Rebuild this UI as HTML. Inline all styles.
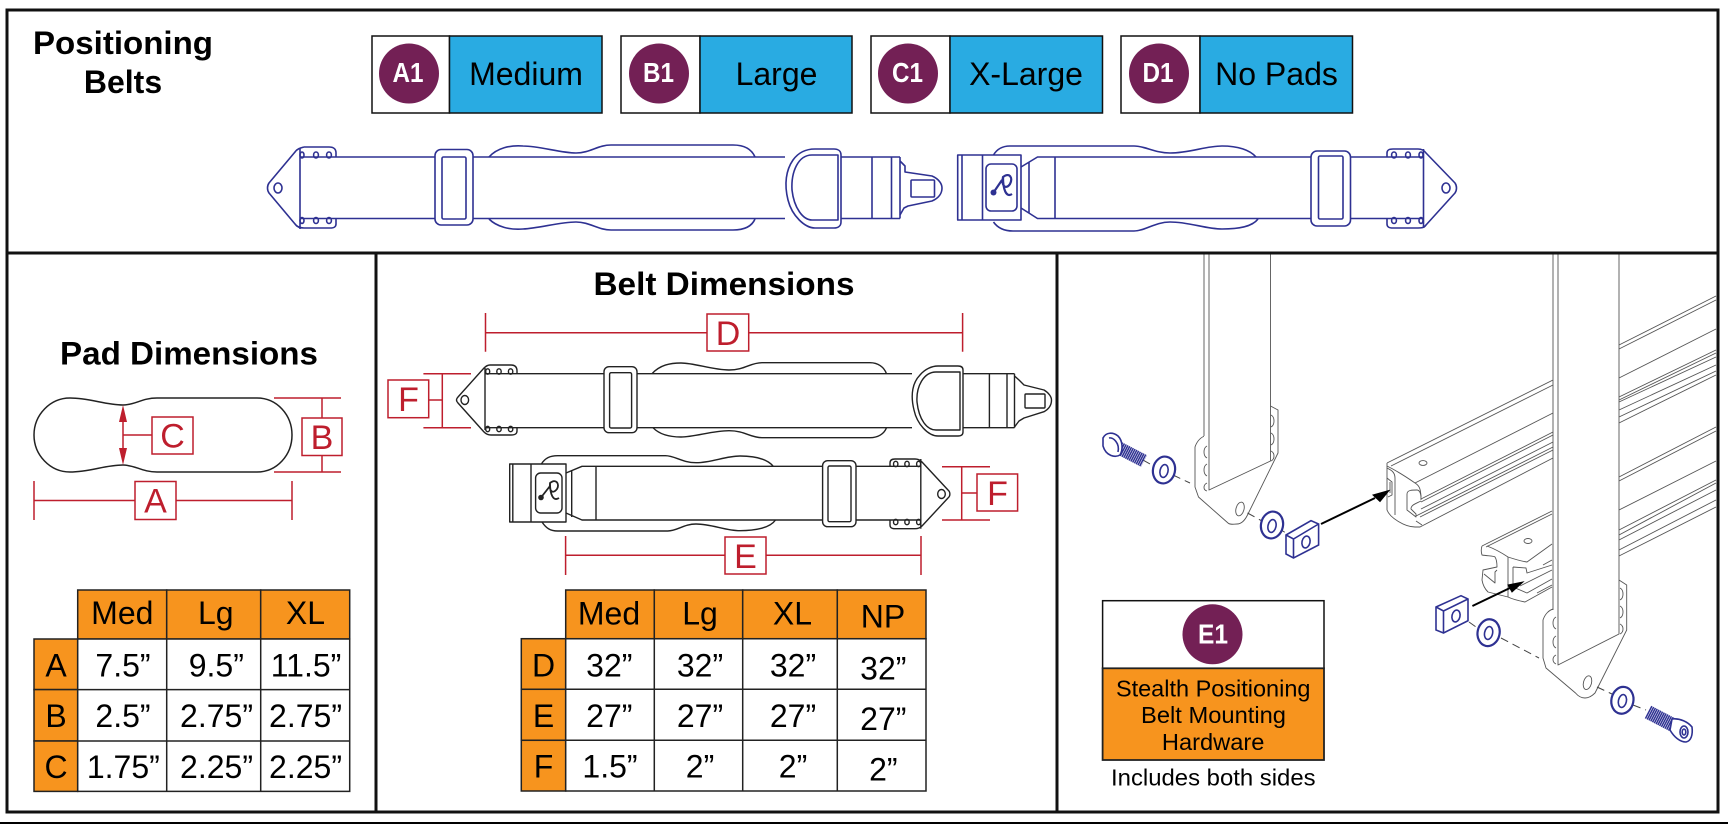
<!DOCTYPE html>
<html><head><meta charset="utf-8"><title>Positioning Belts</title>
<style>
html,body{margin:0;padding:0;background:#fff}
svg{display:block}
text{font-family:"Liberation Sans",sans-serif}
.b{font-weight:bold}
.bl{fill:none;stroke:#2e3192;stroke-width:1.6;stroke-linejoin:round}
.k{fill:none;stroke:#222;stroke-width:1.4;stroke-linejoin:round}
.r{stroke:#be1e2d;stroke-width:1.5;fill:none}
.rb{stroke:#be1e2d;stroke-width:1.5;fill:#fff}
.rt{fill:#be1e2d;font-size:34px;text-anchor:middle}
.g{fill:none;stroke:#555;stroke-width:.9;stroke-linejoin:round}
.h{fill:none;stroke:#2e3192;stroke-width:1.6}
.d{fill:none;stroke:#444;stroke-width:1;stroke-dasharray:8 5}
.or{fill:#f7941e;stroke:#222;stroke-width:1.5}
.wh{fill:#fff;stroke:#222;stroke-width:1.5}
.t{font-size:32px;text-anchor:middle;fill:#000}
.pill{fill:#fff;font-weight:bold;font-size:28px;text-anchor:middle}
.w{fill:#fff !important}
</style></head><body>
<svg width="1728" height="824" viewBox="0 0 1728 824" xmlns="http://www.w3.org/2000/svg">
<rect width="1728" height="824" fill="#fff"/>

<!-- hardware panel -->
<g>
<!-- rails -->
<g class="g">
<path d="M1387 463L1553 380M1391 466L1553 385"/>
<path d="M1387 463V510C1390 518 1405 527 1415 527L1420 527L1553 458"/>
<path d="M1387 468C1391 470 1395 472 1395 478V515"/>
<path d="M1387 478L1392 482V495L1388 497M1390 482V493"/>
<path d="M1415 483L1553 413"/>
<path d="M1387 466C1395 470 1405 476 1415 483C1420 486 1421 490 1421 500"/>
<path d="M1407 494C1407 490 1412 490 1417 490C1420 490 1421 495 1421 497M1407 494V510L1416 517V514L1411 509C1411 505 1415 504 1421 501"/>
<path d="M1421 499L1553 432M1421 502L1553 435M1421 509L1553 442M1416 516L1553 447M1420 517L1553 450M1416 521L1422 525"/>
<ellipse cx="1423" cy="463" rx="4" ry="2.400"/>
<path d="M1482 546L1552 511M1486 547L1552 514"/>
<path d="M1482 546C1481 549 1481 552 1482 555C1488 556 1494 556 1495 557C1497 560 1497 564 1497 567L1483 570L1482 580C1483 586 1485 589 1488 592L1508 597C1512 599 1520 601 1525 602L1552 587"/>
<path d="M1487 546C1495 549 1502 553 1508 557C1514 559 1520 561 1527 562L1552 544"/>
<path d="M1508 557V597"/>
<path d="M1513 567V587L1527 593L1552 579M1513 567L1526 568L1527 573L1552 565M1543 565L1552 560M1520 586L1552 570M1537 593L1552 585"/>
<path d="M1484 574L1495 583V572L1497 570"/>
<ellipse cx="1528" cy="541" rx="4" ry="2.500"/>
<path d="M1619 345L1716 296M1619 349L1716 300"/>
<path d="M1619 378L1716 329M1619 397L1716 350M1619 400L1716 353M1619 402L1716 357M1619 410L1716 365M1619 417L1716 371M1619 423L1716 375"/>
<path d="M1619 477L1716 427M1619 481L1716 431"/>
<path d="M1619 510L1716 461M1619 530L1716 480M1619 535L1716 483M1619 540L1716 490M1619 550L1716 500M1619 556L1716 507"/>
</g>
<!-- left bar -->
<path class="g w" d="M1270.500 406L1278 410V453L1247.500 515C1244 522 1240 524 1237 524C1233 524 1230 525 1228 523L1198.500 497L1195 487V447C1197 441 1201 437 1205 436Z"/>
<path class="w" d="M1204 253H1270.500V461L1209 490L1204 450Z"/>
<path class="g" d="M1204 253V436M1209 253V490L1270.500 461V253"/>
<path class="g" d="M1271 415C1275 417 1275 425 1271 427M1271 433C1275 435 1275 443 1271 445M1271 451C1275 453 1275 459 1271 461M1207 446C1203 448 1203 456 1207 458M1207 464C1203 466 1203 474 1207 476M1207 483C1203 485 1203 490 1207 491"/>
<ellipse class="g" cx="1240" cy="509" rx="4" ry="7" transform="rotate(15 1240 509)"/>
<!-- right bar -->
<path class="g w" d="M1619 580L1626.700 585V630L1595 693C1592 696 1589 698 1585 698C1581 698 1578 696 1575.500 693L1546 668L1543 658V620C1545 614 1549 610 1553.400 609Z"/>
<path class="w" d="M1553 253H1619V634L1558 665H1553Z"/>
<path class="g" d="M1553 253V610M1558 253V665L1619 634V253"/>
<path class="g" d="M1620 588C1624 590 1624 598 1620 600M1620 606C1624 608 1624 616 1620 618M1620 624C1624 626 1624 632 1620 634M1556 617C1552 619 1552 627 1556 629M1556 636C1552 638 1552 646 1556 648M1556 655C1552 657 1552 662 1556 664"/>
<ellipse class="g" cx="1587.500" cy="682.700" rx="4" ry="7" transform="rotate(15 1587.500 682.700)"/>
<!-- dashes -->
<path class="d" d="M1143 460L1150 464M1173 475L1190 483M1247.500 513L1262 521M1278 528L1286 533M1469 622L1476 627M1501 638L1539 658M1597 687L1612 694M1633 705L1646 710"/>
<!-- blue hardware -->
<g>
<path d="M1119 448L1144 461" stroke="#2e3192" stroke-width="13" stroke-dasharray="1.500 .5" fill="none"/>
<path class="h w" d="M1103 438C1106 432 1113 432 1118 436C1123 441 1123 450 1120 455C1115 458 1106 456 1103 446Z"/>
<path class="h" d="M1109 438C1113 437 1120 443 1118 452"/>
<ellipse class="h w" cx="1164" cy="470" rx="11" ry="13.500" transform="rotate(12 1164 470)" style="stroke-width:2.200"/>
<ellipse class="h" cx="1164" cy="471" rx="4" ry="6.500" transform="rotate(12 1164 471)"/>
<ellipse class="h w" cx="1272" cy="525" rx="11" ry="13.500" transform="rotate(12 1272 525)" style="stroke-width:2.200"/>
<ellipse class="h" cx="1272" cy="526" rx="4" ry="6.500" transform="rotate(12 1272 526)"/>
<path class="h w" d="M1286 535L1311 520.700L1318.600 524V545L1293.500 558L1286 554Z"/>
<path class="h" d="M1286 535L1293.500 539L1318.600 524M1293.500 539V558"/>
<ellipse class="h" cx="1306" cy="542" rx="4" ry="6" transform="rotate(12 1306 542)"/>
<path class="h w" d="M1436 607L1461 595.700L1468 599V620.700L1443.500 633L1436 630Z"/>
<path class="h" d="M1436 607L1443.500 611L1468 599M1443.500 611V633"/>
<ellipse class="h" cx="1456" cy="616" rx="4" ry="6" transform="rotate(12 1456 616)"/>
<ellipse class="h w" cx="1488.600" cy="632.700" rx="11" ry="13.500" transform="rotate(12 1488.600 632.700)" style="stroke-width:2.200"/>
<ellipse class="h" cx="1488.600" cy="633" rx="4" ry="6.500" transform="rotate(12 1488.600 633)"/>
<ellipse class="h w" cx="1622.400" cy="700.300" rx="11" ry="13.500" transform="rotate(12 1622.400 700.300)" style="stroke-width:2.200"/>
<ellipse class="h" cx="1622.400" cy="701" rx="4" ry="6.500" transform="rotate(12 1622.400 701)"/>
<path d="M1648 712L1673 725" stroke="#2e3192" stroke-width="14" stroke-dasharray="1.500 .5" fill="none"/>
<path class="h w" d="M1672 719C1680 718 1688 722 1692 727C1693 735 1691 741 1686 742C1680 742 1674 737 1670 730Z"/>
<ellipse class="h" cx="1684" cy="732" rx="4" ry="6"/>
<ellipse class="h" cx="1684" cy="732" rx="1.800" ry="3"/>
</g>
<!-- arrows -->
<path d="M1321 524L1375 498" stroke="#000" stroke-width="2" fill="none"/>
<path d="M1389 490.500L1373 495L1380 501.500Z" fill="#000" stroke="#000"/>
<path d="M1472.400 606L1512 587" stroke="#000" stroke-width="2" fill="none"/>
<path d="M1523 582L1508 585L1512 592Z" fill="#000" stroke="#000"/>
</g>

<!-- frames -->
<g fill="none" stroke="#111" stroke-width="3">
<rect x="7" y="10" width="1711" height="802"/>
<path d="M7 253H1718M376 253V812M1057 253V812"/>
</g>
<rect x="0" y="822" width="1728" height="2" fill="#000"/>

<!-- title -->
<text x="123" y="54" class="b" font-size="32" text-anchor="middle" textLength="180" lengthAdjust="spacingAndGlyphs">Positioning</text>
<text x="123" y="93" class="b" font-size="32" text-anchor="middle">Belts</text>

<!-- size badges -->
<g stroke="#111" stroke-width="1.500">
<rect x="372" y="36" width="77.500" height="77" fill="#fff"/><rect x="449.500" y="36" width="152.500" height="77" fill="#29abe2"/>
<rect x="621" y="36" width="79" height="77" fill="#fff"/><rect x="700" y="36" width="152" height="77" fill="#29abe2"/>
<rect x="871" y="36" width="79" height="77" fill="#fff"/><rect x="950" y="36" width="152.500" height="77" fill="#29abe2"/>
<rect x="1121" y="36" width="79" height="77" fill="#fff"/><rect x="1200" y="36" width="152.500" height="77" fill="#29abe2"/>
</g>
<g fill="#732055">
<circle cx="409" cy="73.500" r="30"/><circle cx="659" cy="73.500" r="30"/><circle cx="908" cy="73.500" r="30"/><circle cx="1159" cy="73.500" r="30"/>
</g>
<text class="pill" x="408" y="82" textLength="31" lengthAdjust="spacingAndGlyphs">A1</text><text class="pill" x="658.500" y="82" textLength="31" lengthAdjust="spacingAndGlyphs">B1</text><text class="pill" x="907.500" y="82" textLength="31" lengthAdjust="spacingAndGlyphs">C1</text><text class="pill" x="1158" y="82" textLength="31" lengthAdjust="spacingAndGlyphs">D1</text>
<text class="t" x="526" y="85">Medium</text><text class="t" x="776.500" y="85">Large</text><text class="t" x="1026" y="85">X-Large</text><text class="t" x="1276.500" y="85">No Pads</text>

<!-- top belt left -->
<g>
<path class="bl" d="M489 157C497 148 510 145 523 146C540 146 560 153 576 153C590 153 598 145 611 145H733C745 145 752 150 755 157"/>
<path class="bl" d="M489 219C497 227 510 230 523 229C540 228 560 222 576 222C590 222 598 230 611 230H733C745 230 752 226 755 219"/>
<path class="bl" d="M300 157H785M300 218.500H785M838 157H900M838 218.500H900M300 148V229"/>
<path class="bl" d="M304 147H329C334 147 336 149 336 153V157M336 219V224C336 227 334 228 330 228H304C300 228 297 227 295 224L269 193C267 190 267 186 269 183L295 152C297 149 300 148 304 147"/>
<ellipse class="bl" cx="302" cy="155" rx="2" ry="3"/><ellipse class="bl" cx="316" cy="155" rx="2.400" ry="3"/><ellipse class="bl" cx="329" cy="155" rx="2.400" ry="3"/>
<ellipse class="bl" cx="302" cy="220.500" rx="2" ry="3"/><ellipse class="bl" cx="316" cy="220.500" rx="2.400" ry="3"/><ellipse class="bl" cx="329" cy="220.500" rx="2.400" ry="3"/>
<ellipse class="bl" cx="278" cy="188" rx="4" ry="5"/>
<rect class="bl w" x="435" y="149.500" width="38" height="75.500" rx="6"/><rect class="bl" x="442" y="157" width="24" height="62" rx="1.500"/>
<path class="bl w" d="M841 155V222C841 226 838 228 834 228H815C805 228 792 216 788 200C784 184 786 170 793 160C798 153 805 149 815 149H834C838 149 841 151 841 155Z"/>
<path class="bl" d="M838 155V220H812C803 220 794 208 792 190C791 172 798 155 812 155Z"/>
<path class="bl" d="M872 157V218.500M891.500 157V218.500M900 157V218.500"/>
<path class="bl" d="M900 161L905 166V172L932 176C939 179 942 184 942 188C942 193 939 198 932 201L908 206L904 208L900 215"/>
<rect class="bl" x="911" y="180" width="23.500" height="17" rx="1"/>
</g>

<!-- top belt right -->
<g>
<path class="bl" d="M993.500 155C997 149 1003 146 1010 146H1134C1145 146 1155 153 1170 153C1190 153 1205 146 1222 146C1238 146 1250 150 1256 157"/>
<path class="bl" d="M993.500 222C997 227 1003 231 1013 231H1134C1145 231 1155 222 1170 222C1190 222 1205 229 1222 229C1238 229 1252 227 1258 219"/>
<path class="bl" d="M1021 167L1037.500 157H1424M1021 208L1037.500 218.500H1424M1055 157V218.500M1029 162V213"/>
<rect class="bl w" x="957.700" y="155" width="63.300" height="65"/>
<path class="bl" d="M982.500 155V220M962 155V220"/>
<rect class="bl" x="986" y="164" width="31" height="47" rx="5"/>
<circle cx="993.500" cy="192.500" r="3" fill="#2e3192"/>
<path class="bl" style="stroke-width:2.200" d="M993.500 192.500L1002 180M1003 177C1010 172 1013 178 1010 184C1006 190 1001 186 1003 177C1003 189 1006 198 1012 194"/>
<rect class="bl w" x="1311" y="151" width="39.500" height="75" rx="6"/><rect class="bl" x="1318.500" y="156" width="24.500" height="63" rx="1.500"/>
<path class="bl" d="M1423.500 149V228"/>
<path class="bl" d="M1387 157V153C1387 150 1389 149 1393 149H1418C1421 149 1424 150 1426 153L1455 183C1457 186 1457 190 1455 193L1426 225C1424 228 1421 228 1418 228H1393C1389 228 1387 227 1387 224V218.500"/>
<ellipse class="bl" cx="1394" cy="155" rx="2.400" ry="3"/><ellipse class="bl" cx="1408" cy="155" rx="2.400" ry="3"/><ellipse class="bl" cx="1421" cy="155" rx="2" ry="3"/>
<ellipse class="bl" cx="1394" cy="220.500" rx="2.400" ry="3"/><ellipse class="bl" cx="1408" cy="220.500" rx="2.400" ry="3"/><ellipse class="bl" cx="1421" cy="220.500" rx="2" ry="3"/>
<ellipse class="bl" cx="1446" cy="188" rx="4" ry="5"/>
</g>

<!-- Pad dimensions -->
<text x="189" y="364.500" class="b" font-size="32" text-anchor="middle" textLength="258" lengthAdjust="spacingAndGlyphs">Pad Dimensions</text>
<path d="M70 398C90 398 105 405 123 405C135 405 142 398 157 398H257C277 398 292 415 292 435C292 455 277 472 257 472H157C142 472 135 465 123 465C105 465 90 472 70 472C50 472 34 455 34 435C34 415 50 398 70 398Z" fill="none" stroke="#222" stroke-width="1.500"/>
<path class="r" d="M123 420V450M123 435H152"/>
<path d="M123 405L119 422H127ZM123 465L119 448H127Z" fill="#be1e2d"/>
<rect class="rb" x="152" y="417" width="41" height="37"/><text class="rt" x="172.500" y="447.500">C</text>
<path class="r" d="M274 398H341M274 472H341M322 398V418M322 455V472"/>
<rect class="rb" x="302" y="418" width="40" height="37.500"/><text class="rt" x="322" y="449">B</text>
<path class="r" d="M34 481V520M292 481V520M34 500.500H135M176 500.500H292"/>
<rect class="rb" x="135" y="481.500" width="41" height="38"/><text class="rt" x="155.500" y="512.500">A</text>

<!-- Pad table -->
<rect class="or" x="77.700" y="590" width="89" height="49"/><rect class="or" x="166.700" y="590" width="94" height="49"/><rect class="or" x="260.700" y="590" width="89" height="49"/>
<rect class="or" x="34" y="639" width="43.700" height="50.600"/><rect class="or" x="34" y="689.600" width="43.700" height="51.400"/><rect class="or" x="34" y="741" width="43.700" height="50.400"/>
<path class="wh" d="M77.700 639H349.700V791.400H77.700Z"/>
<path d="M77.700 689.600H349.700M77.700 741H349.700M166.700 639V791.400M260.700 639V791.400" stroke="#222" stroke-width="1.500"/>
<text class="t" x="122.300" y="624">Med</text><text class="t" x="215.800" y="624">Lg</text><text class="t" x="305.500" y="624">XL</text>
<text class="t" x="56" y="676.700">A</text><text class="t" x="56" y="727">B</text><text class="t" x="56" y="778">C</text>
<text class="t" x="123" y="676.700">7.5”</text><text class="t" x="216.300" y="676.700">9.5”</text><text class="t" x="306" y="676.700">11.5”</text>
<text class="t" x="123" y="727">2.5”</text><text class="t" x="216.500" y="727">2.75”</text><text class="t" x="305.500" y="727">2.75”</text>
<text class="t" x="123.300" y="778">1.75”</text><text class="t" x="216.500" y="778">2.25”</text><text class="t" x="305.500" y="778">2.25”</text>

<!-- Belt Dimensions -->
<text x="724" y="295" class="b" font-size="32" text-anchor="middle" textLength="261" lengthAdjust="spacingAndGlyphs">Belt Dimensions</text>
<path class="r" d="M485.500 313V351.700M962.600 313V351.700M485.500 332.700H707M748.700 332.700H962.600"/>
<rect class="rb" x="707" y="314" width="41.700" height="37"/><text class="rt" x="728" y="345">D</text>
<path class="r" d="M423.400 373.700H471M423.400 427.700H471M442.300 373.700V427.700M428.700 400H442.300"/>
<rect class="rb" x="388" y="380" width="40.700" height="37.700"/><text class="rt" x="408.500" y="411">F</text>

<!-- black belt 1 -->
<g>
<path class="k" d="M652 373.700C660 365 670 363 681 363C695 363 712 370 729 370C745 370 750 362.700 762 362.700H870C878 362.700 884 367 886.500 373.700"/>
<path class="k" d="M653 427.700C660 435 670 437 681 437C695 437 712 430.700 729 430.700C745 430.700 750 437.700 762 437.700H870C878 437.700 884 434 886.500 427.700"/>
<path class="k" d="M485 373.700H912M485 427.700H912M960 373.700H1014.500M960 427.700H1014.500M485 368V430"/>
<path class="k" d="M490 365H511C515 365 517 367 517 371V373.700M517 427.700V431C517 434 515 435 511 435H491C488 435 486 434 484 432L458 403C456 401 456 399 458 397L484 368C486 366 488 365 490 365"/>
<ellipse class="k" cx="487.700" cy="371.500" rx="2" ry="2.700"/><ellipse class="k" cx="499" cy="371.500" rx="2.200" ry="2.700"/><ellipse class="k" cx="510.600" cy="371.500" rx="2.200" ry="2.700"/>
<ellipse class="k" cx="487.700" cy="429" rx="2" ry="2.700"/><ellipse class="k" cx="499" cy="429" rx="2.200" ry="2.700"/><ellipse class="k" cx="510.600" cy="429" rx="2.200" ry="2.700"/>
<ellipse class="k" cx="464.800" cy="400" rx="3.800" ry="4.500"/>
<rect class="k w" x="604" y="366.700" width="33" height="66" rx="5"/><rect class="k" x="609.600" y="372.700" width="22" height="55.300" rx="1.500"/>
<path class="k w" d="M963 370V432C963 435 961 436 958 436H938C928 436 917 424 914 410C910 394 913 382 920 375C925 369 932 366 938 366H958C961 366 963 367 963 370Z"/>
<path class="k" d="M960 372V430H936C927 430 919 420 917 402C916 386 924 372 936 372Z"/>
<path class="k" d="M989.400 373.700V427.700M1007 373.700V427.700M1014.500 373.700V427.700"/>
<path class="k" d="M1014.500 376L1019 380L1024 385L1044 390C1049 393 1051.500 397 1051.500 400C1051.500 405 1049 409 1044 411.700L1024 418L1019 421L1014.500 427"/>
<rect class="k" x="1025" y="394" width="20" height="14" rx="1"/>
</g>

<!-- black belt 2 -->
<g>
<path class="k" d="M541.400 464C545 458 550 455.700 557.700 455.700H665.500C675 455.700 682 462.700 696 462.700C712 462.700 725 456 740 456C755 456 767 459 773 466"/>
<path class="k" d="M542 522C546 528 550 531 557.700 531H667.700C677 531 684 524 696 524C712 524 725 530.700 740 530.700C755 530.700 770 528 775.500 520"/>
<path class="k" d="M566 473L582 466.300H921M566 513L582 520H921M596 466.300V520M571.700 470V517"/>
<rect class="k w" x="509.700" y="464" width="56.300" height="58"/>
<path class="k" d="M531 464V522M512.800 464V522"/>
<rect class="k" x="535.600" y="473" width="26.400" height="40" rx="5"/>
<circle cx="541" cy="497.500" r="2.800" fill="#222"/>
<path class="k" style="stroke-width:1.800" d="M541 497.500L550 486M550 483C556 478 560 484 557 489C553 494 549 492 550 483C550 494 553 502 559 498"/>
<rect class="k w" x="822.600" y="460.700" width="33.400" height="66" rx="5"/><rect class="k" x="828" y="466" width="23" height="55.700" rx="1.500"/>
<path class="k" d="M920.800 459V528.700"/>
<path class="k" d="M890 466.300V463C890 460 892 459 895 459H915C918 459 920 460 922 462L948 490C950.500 492 950.500 496 948 498L922 526C920 528 918 528.700 915 528.700H895C892 528.700 890 528 890 525V520"/>
<ellipse class="k" cx="895.700" cy="464" rx="2.200" ry="2.700"/><ellipse class="k" cx="907" cy="464" rx="2.200" ry="2.700"/><ellipse class="k" cx="918.600" cy="464" rx="2" ry="2.700"/>
<ellipse class="k" cx="895.700" cy="522" rx="2.200" ry="2.700"/><ellipse class="k" cx="907" cy="522" rx="2.200" ry="2.700"/><ellipse class="k" cx="918.600" cy="522" rx="2" ry="2.700"/>
<ellipse class="k" cx="941.500" cy="494" rx="3.800" ry="4.500"/>
</g>
<path class="r" d="M942 466.700H990M942 520H990M961.700 466.700V520M961.700 493H977"/>
<rect class="rb" x="977" y="474" width="40.600" height="37"/><text class="rt" x="997.500" y="505">F</text>
<path class="r" d="M565.600 536V575M921 536V575M565.600 555.300H725M766 555.300H921"/>
<rect class="rb" x="725" y="537" width="41" height="37"/><text class="rt" x="745.500" y="568">E</text>

<!-- Belt table -->
<rect class="or" x="565.700" y="590" width="88.600" height="48.700"/><rect class="or" x="654.300" y="590" width="88.400" height="48.700"/><rect class="or" x="742.700" y="590" width="94.600" height="48.700"/><rect class="or" x="837.300" y="590" width="88.700" height="48.700"/>
<rect class="or" x="521.300" y="638.700" width="44.400" height="50.600"/><rect class="or" x="521.300" y="689.300" width="44.400" height="51"/><rect class="or" x="521.300" y="740.300" width="44.400" height="50.700"/>
<path class="wh" d="M565.700 638.700H926V791H565.700Z"/>
<path d="M565.700 689.300H926M565.700 740.300H926M654.300 638.700V791M742.700 638.700V791M837.300 638.700V791" stroke="#222" stroke-width="1.500"/>
<text class="t" x="609" y="624.300">Med</text><text class="t" x="700" y="624.300">Lg</text><text class="t" x="792.500" y="624.300">XL</text><text class="t" x="883" y="627.300">NP</text>
<text class="t" x="543.500" y="676.700">D</text><text class="t" x="543.500" y="727">E</text><text class="t" x="543.500" y="777.700">F</text>
<text class="t" x="609.300" y="676.700">32”</text><text class="t" x="700" y="676.700">32”</text><text class="t" x="793" y="676.700">32”</text><text class="t" x="883.300" y="679.300">32”</text>
<text class="t" x="609.300" y="727">27”</text><text class="t" x="700" y="727">27”</text><text class="t" x="793" y="727">27”</text><text class="t" x="883.300" y="730">27”</text>
<text class="t" x="610" y="777.700">1.5”</text><text class="t" x="700" y="777.700">2”</text><text class="t" x="793" y="777.700">2”</text><text class="t" x="883.300" y="780.300">2”</text>

<!-- E1 box -->
<rect x="1102.600" y="600.700" width="221.400" height="67.600" fill="#fff" stroke="#111" stroke-width="1.500"/>
<rect x="1102.600" y="668.300" width="221.400" height="91.700" fill="#f7941e" stroke="#222" stroke-width="1.800"/>
<circle cx="1212.500" cy="634.300" r="30" fill="#732055"/>
<text class="pill" x="1213" y="643.500" textLength="30" lengthAdjust="spacingAndGlyphs">E1</text>
<g font-size="23.500" text-anchor="middle">
<text x="1213.200" y="696.700" textLength="194.500" lengthAdjust="spacingAndGlyphs">Stealth Positioning</text>
<text x="1213.500" y="723" textLength="145" lengthAdjust="spacingAndGlyphs">Belt Mounting</text>
<text x="1213.200" y="750" textLength="102.500" lengthAdjust="spacingAndGlyphs">Hardware</text>
<text x="1213.300" y="785.700" textLength="204.500" lengthAdjust="spacingAndGlyphs">Includes both sides</text>
</g>
</svg>
</body></html>
